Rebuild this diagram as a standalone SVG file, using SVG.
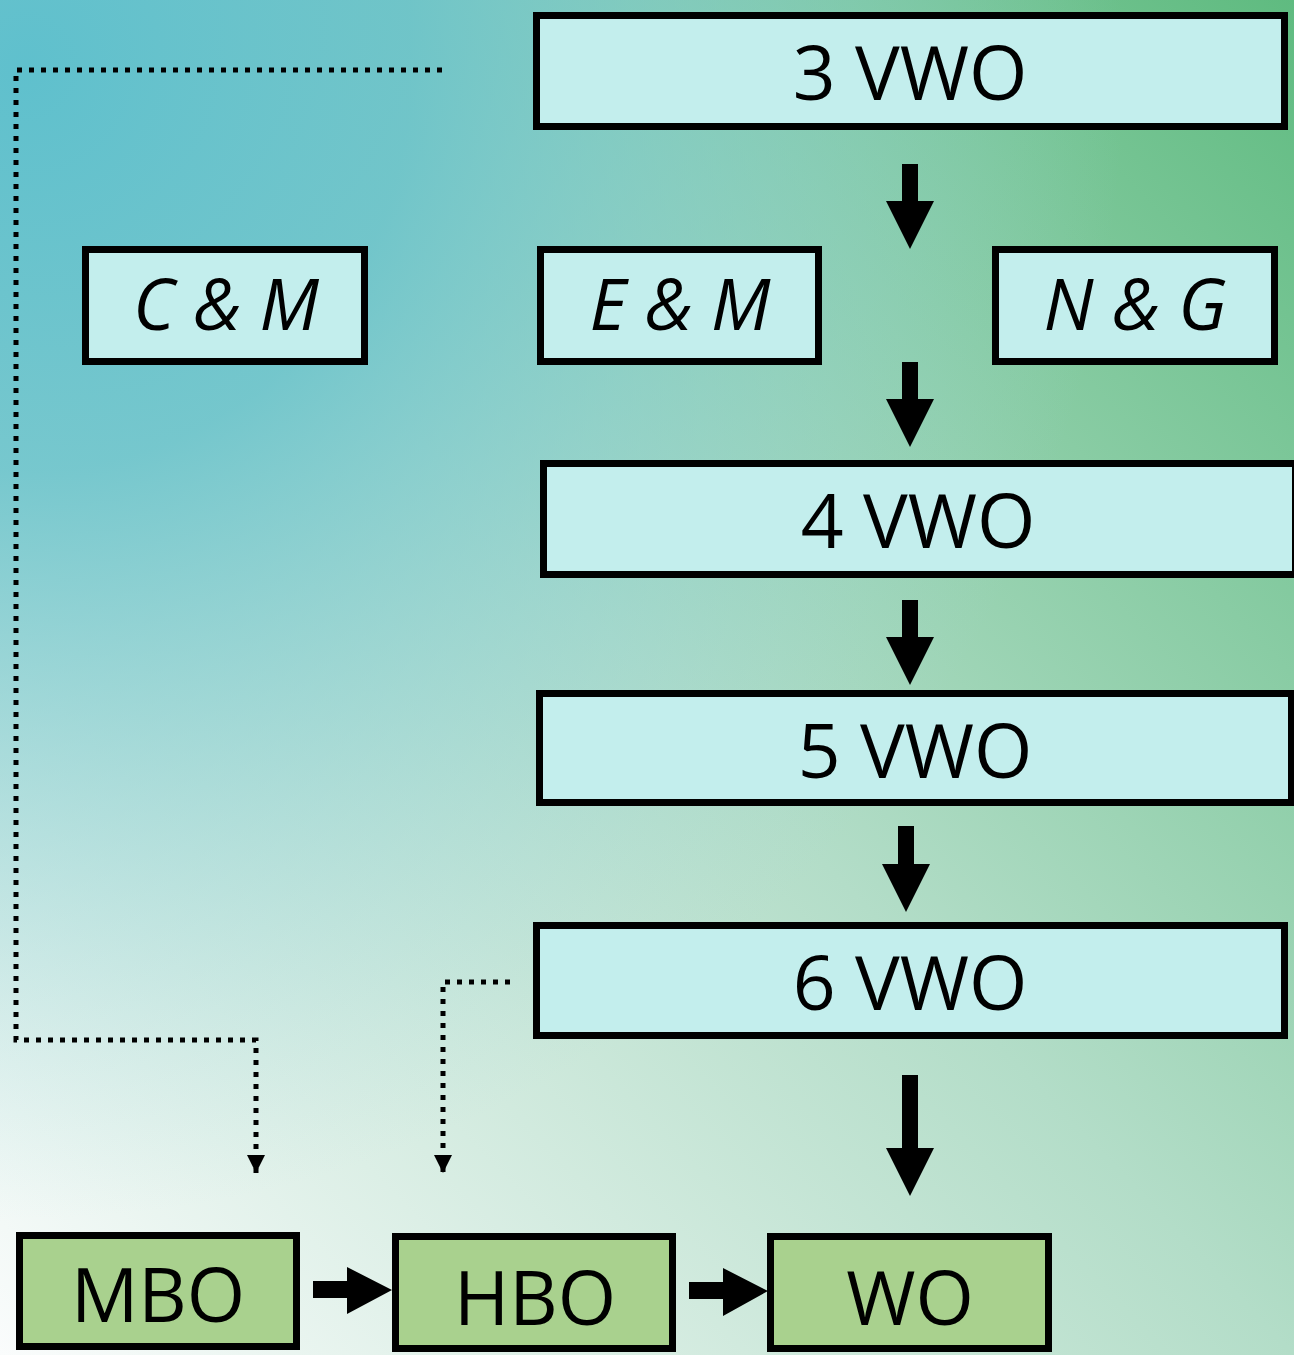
<svg xmlns="http://www.w3.org/2000/svg" width="1294" height="1355" viewBox="0 0 1294 1355">
<defs>
<linearGradient id="bgA" x1="0" y1="1" x2="1" y2="0">
<stop offset="0" stop-color="#fafcfc"/>
<stop offset="0.5" stop-color="#b3ddc8"/>
<stop offset="1" stop-color="#5fbb80"/>
</linearGradient>
<radialGradient id="bgB" cx="0.02" cy="0.05" r="0.85" gradientUnits="objectBoundingBox">
<stop offset="0" stop-color="#5fc0cd" stop-opacity="1"/>
<stop offset="0.35" stop-color="#68c2cc" stop-opacity="0.85"/>
<stop offset="1" stop-color="#a0d8dc" stop-opacity="0"/>
</radialGradient>
<marker id="dotHead" viewBox="0 0 10 10" refX="10" refY="5" markerWidth="18" markerHeight="18" markerUnits="userSpaceOnUse" orient="auto">
<path d="M0 0 L10 5 L0 10 Z" fill="#000"/>
</marker>
</defs>
<style>
.box{fill:#c3eeed;stroke:#000;stroke-width:7}
.gbox{fill:#a9d18e;stroke:#000;stroke-width:7}
.t{font-family:"Open Sans","Noto Sans",sans-serif;font-size:75px;fill:#000;text-anchor:middle}
.ti{font-family:"Open Sans","Noto Sans",sans-serif;font-size:71px;font-style:italic;fill:#000;text-anchor:middle}
.dot{fill:none;stroke:#000;stroke-width:5;stroke-dasharray:5 7}
.arr{fill:#000}
</style>
<rect width="1294" height="1355" fill="url(#bgA)"/>
<rect width="1294" height="1355" fill="url(#bgB)"/>

<g id="connectors">
<path class="dot" d="M442 70 H16 V1040 H256 V1173" marker-end="url(#dotHead)"/>
<path class="dot" d="M510 982 H443 V1173" marker-end="url(#dotHead)"/>
<path class="arr" d="M902 164 H918 V201 H934 L910 249 L886 201 H902 Z"/>
<path class="arr" d="M902 362 H918 V399 H934 L910 447 L886 399 H902 Z"/>
<path class="arr" d="M902 600 H918 V637 H934 L910 685 L886 637 H902 Z"/>
<path class="arr" d="M898 826 H914 V864 H930 L906 912 L882 864 H898 Z"/>
<path class="arr" d="M902 1075 H918 V1148 H934 L910 1196 L886 1148 H902 Z"/>
<path class="arr" d="M313 1281 H347 V1267 L392 1290 L347 1314 V1298 H313 Z"/>
<path class="arr" d="M689 1282 H723 V1268 L768 1291 L723 1316 V1299 H689 Z"/>
</g>

<g id="n3vwo"><rect class="box" x="536.5" y="15.5" width="748" height="111"/><text class="t" x="910" y="100">3 VWO</text></g>
<g id="ncm"><rect class="box" x="85.5" y="249.5" width="279" height="112"/><text class="ti" x="226" y="330">C &amp; M</text></g>
<g id="nem"><rect class="box" x="540.5" y="249.5" width="278" height="112"/><text class="ti" x="680" y="330">E &amp; M</text></g>
<g id="nng"><rect class="box" x="995.5" y="249.5" width="279" height="112"/><text class="ti" x="1135" y="330">N &amp; G</text></g>
<g id="n4vwo"><rect class="box" x="543.5" y="463.5" width="752" height="111"/><text class="t" x="918" y="548">4 VWO</text></g>
<g id="n5vwo"><rect class="box" x="539.5" y="693.5" width="752" height="109"/><text class="t" x="915" y="778">5 VWO</text></g>
<g id="n6vwo"><rect class="box" x="536.5" y="925.5" width="748" height="110"/><text class="t" x="910" y="1010">6 VWO</text></g>
<g id="nmbo"><rect class="gbox" x="19.5" y="1235.5" width="277" height="111"/><text class="t" x="158" y="1322">MBO</text></g>
<g id="nhbo"><rect class="gbox" x="395.5" y="1236.5" width="277" height="112"/><text class="t" x="535" y="1325">HBO</text></g>
<g id="nwo"><rect class="gbox" x="770.5" y="1236.5" width="278" height="112"/><text class="t" x="910" y="1325">WO</text></g>
</svg>
